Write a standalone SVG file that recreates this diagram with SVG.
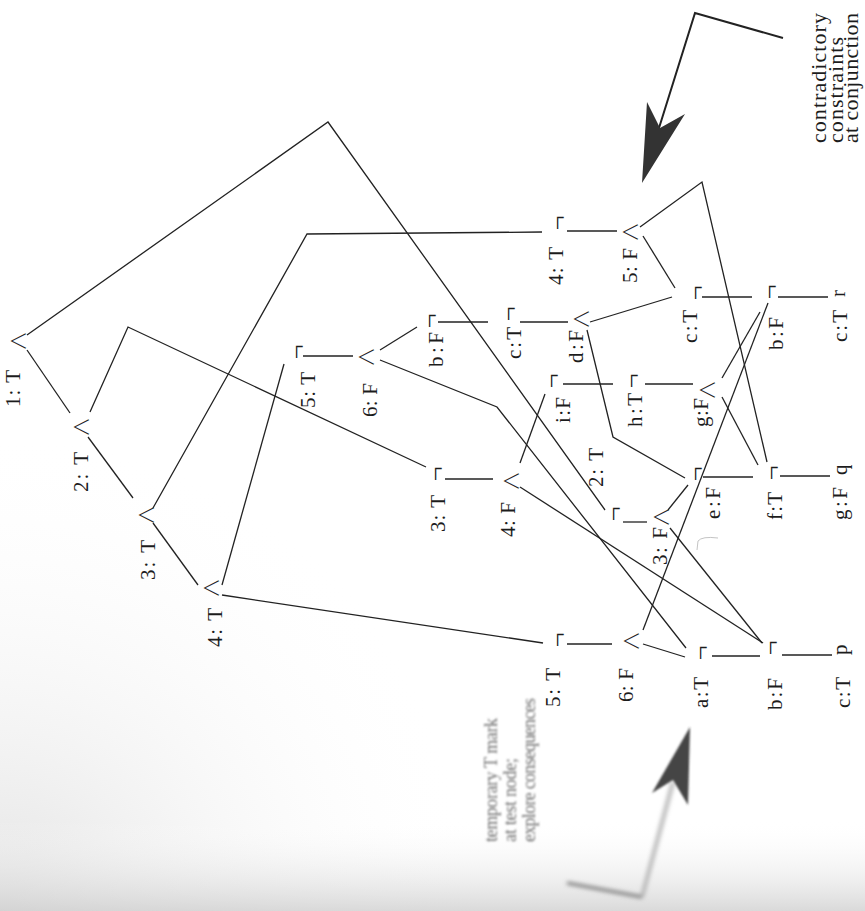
<svg xmlns="http://www.w3.org/2000/svg" width="865" height="911" viewBox="0 0 865 911">
  <defs>
    <linearGradient id="pageShade" x1="0" y1="0" x2="0" y2="1">
      <stop offset="0" stop-color="#ffffff" stop-opacity="0"/>
      <stop offset="0.9" stop-color="#ffffff" stop-opacity="0"/>
      <stop offset="1" stop-color="#d0d0d0" stop-opacity="0.8"/>
    </linearGradient>
    <radialGradient id="cornerShade" cx="0" cy="911" r="480" gradientUnits="userSpaceOnUse">
      <stop offset="0" stop-color="#d6d6d6" stop-opacity="0.7"/>
      <stop offset="1" stop-color="#ffffff" stop-opacity="0"/>
    </radialGradient>
    <filter id="soft" x="-20%" y="-20%" width="140%" height="140%">
      <feGaussianBlur stdDeviation="1.1"/>
    </filter>
    <filter id="softer" x="-20%" y="-20%" width="140%" height="140%">
      <feGaussianBlur stdDeviation="2"/>
    </filter>
  </defs>
  <style>
    .lbl { font-family: "Liberation Serif", "DejaVu Serif", serif; font-size: 21px; fill: #1c1c1c; }
    .and { font-family: "Noto Sans CJK JP", "DejaVu Sans", sans-serif; font-weight: 300; font-size: 20px; fill: #1c1c1c; text-anchor: middle; dominant-baseline: central; }
    .not { font-family: "Liberation Serif", "DejaVu Serif", serif; font-size: 26px; fill: #1c1c1c; text-anchor: middle; dominant-baseline: central; }
    .wire { fill: none; stroke: #222; stroke-width: 1.3; stroke-linejoin: miter; }
    .note { font-family: "Liberation Serif", "DejaVu Serif", serif; font-size: 22px; fill: #1c1c1c; }
    .faint { font-family: "Liberation Serif", "DejaVu Serif", serif; font-size: 18px; fill: #6e6e6e; }
  </style>

  <!-- paper -->
  <rect width="865" height="911" fill="#ffffff"/>
  <rect width="865" height="911" fill="url(#cornerShade)"/>
  <rect width="865" height="911" fill="url(#pageShade)"/>

  <!-- connectors -->
  <g id="connectors" class="wire">
    <!-- formula tree on the left -->
    <polyline points="27,335 328,122 605,510"/>
    <line x1="27" y1="350" x2="70" y2="413"/>
    <polyline points="90,412 128,327 426,467"/>
    <line x1="88" y1="437" x2="133" y2="498"/>
    <polyline points="153,508 307,234 542,232"/>
    <line x1="153" y1="523" x2="198" y2="585"/>
    <line x1="222" y1="585" x2="284" y2="364"/>
    <line x1="222" y1="595" x2="543" y2="643"/>
    <!-- 5:T / 6:F chain -->
    <line x1="303" y1="356" x2="353" y2="356"/>
    <line x1="380" y1="350" x2="417" y2="327"/>
    <polyline points="380,360 497,407 686,648"/>
    <line x1="438" y1="322" x2="488" y2="322"/>
    <line x1="520" y1="322" x2="568" y2="322"/>
    <line x1="590" y1="322" x2="672" y2="297"/>
    <polyline points="587,330 613,437 685,478"/>
    <!-- 4:T / 5:F chain -->
    <line x1="567" y1="231" x2="617" y2="231"/>
    <polyline points="640,227 702,182 767,462"/>
    <line x1="643" y1="236" x2="675" y2="288"/>
    <line x1="702" y1="297" x2="752" y2="297"/>
    <line x1="778" y1="297" x2="828" y2="297"/>
    <!-- i:F / h:T / g:F chain -->
    <line x1="563" y1="384" x2="613" y2="384"/>
    <line x1="645" y1="384" x2="693" y2="384"/>
    <line x1="722" y1="378" x2="760" y2="312"/>
    <line x1="722" y1="397" x2="758" y2="465"/>
    <!-- 3:T / 4:F chain -->
    <line x1="445" y1="479" x2="493" y2="479"/>
    <line x1="520" y1="463" x2="545" y2="394"/>
    <line x1="520" y1="487" x2="763" y2="643"/>
    <!-- 2:T / 3:F chain -->
    <line x1="623" y1="522" x2="647" y2="522"/>
    <line x1="668" y1="510" x2="688" y2="485"/>
    <line x1="670" y1="528" x2="762" y2="643"/>
    <line x1="703" y1="477" x2="753" y2="477"/>
    <line x1="780" y1="476" x2="830" y2="476"/>
    <!-- 5:T / 6:F chain at the bottom -->
    <line x1="567" y1="644" x2="612" y2="644"/>
    <line x1="643" y1="630" x2="768" y2="303"/>
    <line x1="643" y1="644" x2="685" y2="657"/>
    <line x1="712" y1="656" x2="760" y2="656"/>
    <line x1="782" y1="655" x2="832" y2="655"/>
  </g>

  <!-- gates and labels -->
  <g id="n1T"><text class="and" transform="translate(17,341) rotate(-90)">∧</text><text class="lbl" transform="translate(20,407) rotate(-90)" textLength="37">1: T</text></g>
  <g id="n2T"><text class="and" transform="translate(80,427) rotate(-90)">∧</text><text class="lbl" transform="translate(88,492) rotate(-90)" textLength="40">2: T</text></g>
  <g id="n3T"><text class="and" transform="translate(145,515) rotate(-90)">∧</text><text class="lbl" transform="translate(155,580) rotate(-90)" textLength="40">3: T</text></g>
  <g id="n4T"><text class="and" transform="translate(210,588) rotate(-90)">∧</text><text class="lbl" transform="translate(222,647) rotate(-90)" textLength="39">4: T</text></g>

  <g id="n5T"><text class="not" transform="translate(296,352) rotate(-90)">¬</text><text class="lbl" transform="translate(315,408) rotate(-90)" textLength="36">5: T</text></g>
  <g id="n6F"><text class="and" transform="translate(365,357) rotate(-90)">∧</text><text class="lbl" transform="translate(377,417) rotate(-90)" textLength="34">6: F</text></g>
  <g id="nbF1"><text class="not" transform="translate(429,321) rotate(-90)">¬</text><text class="lbl" transform="translate(443,367) rotate(-90)" textLength="35">b:F</text></g>
  <g id="ncT1"><text class="not" transform="translate(508,314) rotate(-90)">¬</text><text class="lbl" transform="translate(521,359) rotate(-90)" textLength="32">c:T</text></g>
  <g id="ndF"><text class="and" transform="translate(580,319) rotate(-90)">∧</text><text class="lbl" transform="translate(583,363) rotate(-90)" textLength="33">d:F</text></g>

  <g id="n4T2"><text class="not" transform="translate(557,223) rotate(-90)">¬</text><text class="lbl" transform="translate(563,285) rotate(-90)" textLength="38">4: T</text></g>
  <g id="n5F"><text class="and" transform="translate(629,232) rotate(-90)">∧</text><text class="lbl" transform="translate(637,283) rotate(-90)" textLength="35">5: F</text></g>
  <g id="ncT2"><text class="not" transform="translate(695,293) rotate(-90)">¬</text><text class="lbl" transform="translate(697,343) rotate(-90)" textLength="33">c:T</text></g>
  <g id="nbF2"><text class="not" transform="translate(769,292) rotate(-90)">¬</text><text class="lbl" transform="translate(783,350) rotate(-90)" textLength="33">b:F</text></g>
  <g id="ncT3"><text class="lbl" transform="translate(845,297) rotate(-90)">r</text><text class="lbl" transform="translate(847,342) rotate(-90)" textLength="32">c:T</text></g>

  <g id="niF"><text class="not" transform="translate(551,381) rotate(-90)">¬</text><text class="lbl" transform="translate(570,423) rotate(-90)" textLength="26">i:F</text></g>
  <g id="nhT"><text class="not" transform="translate(631,381) rotate(-90)">¬</text><text class="lbl" transform="translate(642,427) rotate(-90)" textLength="34">h:T</text></g>
  <g id="ngF1"><text class="and" transform="translate(706,390) rotate(-90)">∧</text><text class="lbl" transform="translate(708,427) rotate(-90)" textLength="29">g:F</text></g>

  <g id="n3T2"><text class="not" transform="translate(435,474) rotate(-90)">¬</text><text class="lbl" transform="translate(445,532) rotate(-90)" textLength="37">3: T</text></g>
  <g id="n4F"><text class="and" transform="translate(510,481) rotate(-90)">∧</text><text class="lbl" transform="translate(515,537) rotate(-90)" textLength="35">4: F</text></g>
  <g id="n2T2"><text class="not" transform="translate(613,514) rotate(-90)">¬</text><text class="lbl" transform="translate(603,487) rotate(-90)" textLength="39">2: T</text></g>
  <g id="n3F"><text class="and" transform="translate(660,517) rotate(-90)">∧</text><text class="lbl" transform="translate(667,565) rotate(-90)" textLength="38">3: F</text></g>
  <g id="neF"><text class="not" transform="translate(695,474) rotate(-90)">¬</text><text class="lbl" transform="translate(720,519) rotate(-90)" textLength="32">e:F</text></g>
  <g id="nfT"><text class="not" transform="translate(771,473) rotate(-90)">¬</text><text class="lbl" transform="translate(782,520) rotate(-90)" textLength="28">f:T</text></g>
  <g id="ngF2"><text class="lbl" transform="translate(847,475) rotate(-90)">q</text><text class="lbl" transform="translate(847,520) rotate(-90)" textLength="33">g:F</text></g>

  <g id="n5T2"><text class="not" transform="translate(557,640) rotate(-90)">¬</text><text class="lbl" transform="translate(560,707) rotate(-90)" textLength="39">5: T</text></g>
  <g id="n6F2"><text class="and" transform="translate(630,641) rotate(-90)">∧</text><text class="lbl" transform="translate(633,702) rotate(-90)" textLength="34">6: F</text></g>
  <g id="naT"><text class="not" transform="translate(700,653) rotate(-90)">¬</text><text class="lbl" transform="translate(708,708) rotate(-90)" textLength="31">a:T</text></g>
  <g id="nbF3"><text class="not" transform="translate(770,648) rotate(-90)">¬</text><text class="lbl" transform="translate(782,710) rotate(-90)" textLength="32">b:F</text></g>
  <g id="ncT4"><text class="lbl" transform="translate(847,655) rotate(-90)">p</text><text class="lbl" transform="translate(850,708) rotate(-90)" textLength="31">c:T</text></g>

  <!-- annotation: contradiction -->
  <g id="note-contradiction">
    <polyline points="783,38 695,13 659,128" fill="none" stroke="#222" stroke-width="2"/>
    <polygon points="642,183 647,102 660,128 685,114" fill="#333"/>
    <text class="note" transform="translate(826,143) rotate(-90)" textLength="130">contradictory</text>
    <text class="note" transform="translate(843,143) rotate(-90)" textLength="106">constraints</text>
    <text class="note" transform="translate(858,143) rotate(-90)" textLength="130">at conjunction</text>
  </g>

  <!-- annotation: temporary mark (out of focus) -->
  <g id="note-temporary">
    <g filter="url(#softer)">
      <line x1="642" y1="897" x2="673" y2="782" stroke="#b5b5b5" stroke-width="4"/>
      <line x1="567" y1="883" x2="642" y2="897" stroke="#777" stroke-width="3"/>
    </g>
    <polygon points="690,727 652,793 673,780 688,805" fill="#444" filter="url(#soft)"/>
    <g filter="url(#soft)">
      <text class="faint" transform="translate(497,842) rotate(-90)" textLength="124">temporary T mark</text>
      <text class="faint" transform="translate(516,842) rotate(-90)" textLength="84">at test node;</text>
      <text class="faint" transform="translate(535,842) rotate(-90)" textLength="144">explore consequences</text>
    </g>
  </g>

  <!-- stray pencil mark -->
  <path d="M718,538 Q702,536 698,541 L697,550" fill="none" stroke="#c4c4c4" stroke-width="1"/>
</svg>
